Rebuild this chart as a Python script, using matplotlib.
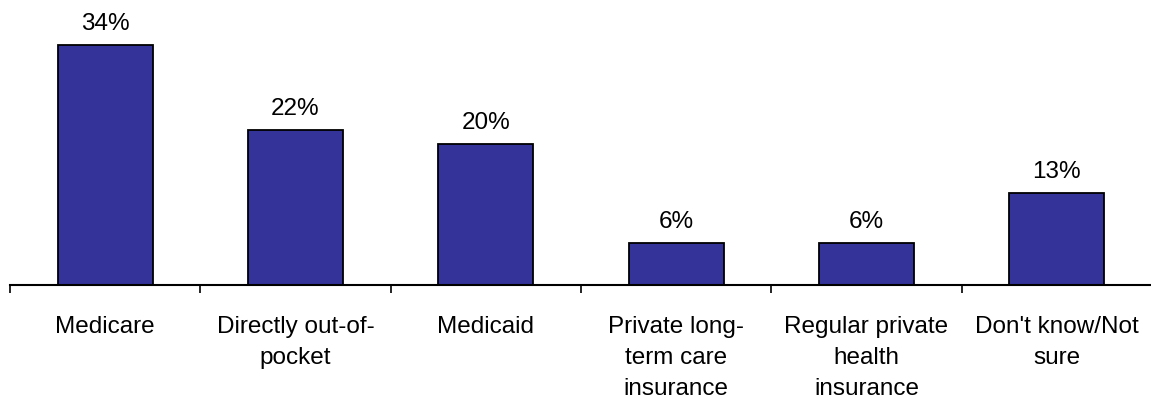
import numpy as np
import matplotlib.pyplot as plt

plt.rcParams['font.family'] = ['Liberation Sans', 'DejaVu Sans']

categories = ["Medicare", "Directly out-of-\npocket", "Medicaid",
              "Private long-\nterm care\ninsurance", "Regular private\nhealth\ninsurance",
              "Don't know/Not\nsure"]
values = [34, 22, 20, 6, 6, 13]

fig = plt.figure(figsize=(11.51, 4.04), dpi=100)
ax = fig.add_axes([10/1151, 119/404, 1142/1151, 282.4/404])

x = np.arange(len(values))
bars = ax.bar(x, values, width=0.5, color='#333399', edgecolor='black', linewidth=1.3)
for xi, v in zip(x, values):
    ax.annotate(f"{v}%", (xi, v), xytext=(0, 7), textcoords='offset points',
                ha='center', va='bottom', fontsize=17.5)

ax.set_xlim(-0.5, len(values) - 0.5)
ax.set_ylim(0, 40)
ax.set_xticks(x)
ax.set_xticklabels(categories, fontsize=17.5, linespacing=1.53, va='top')
ax.tick_params(axis='x', which='major', length=0, pad=22)
ax.set_xticks(np.arange(len(values) + 1) - 0.5, minor=True)
ax.tick_params(axis='x', which='minor', length=6, width=1.2, direction='out')
ax.set_yticks([])
for s in ['top', 'right', 'left']:
    ax.spines[s].set_visible(False)
ax.spines['bottom'].set_linewidth(1.5)

fig.savefig('out.png', dpi=100)
